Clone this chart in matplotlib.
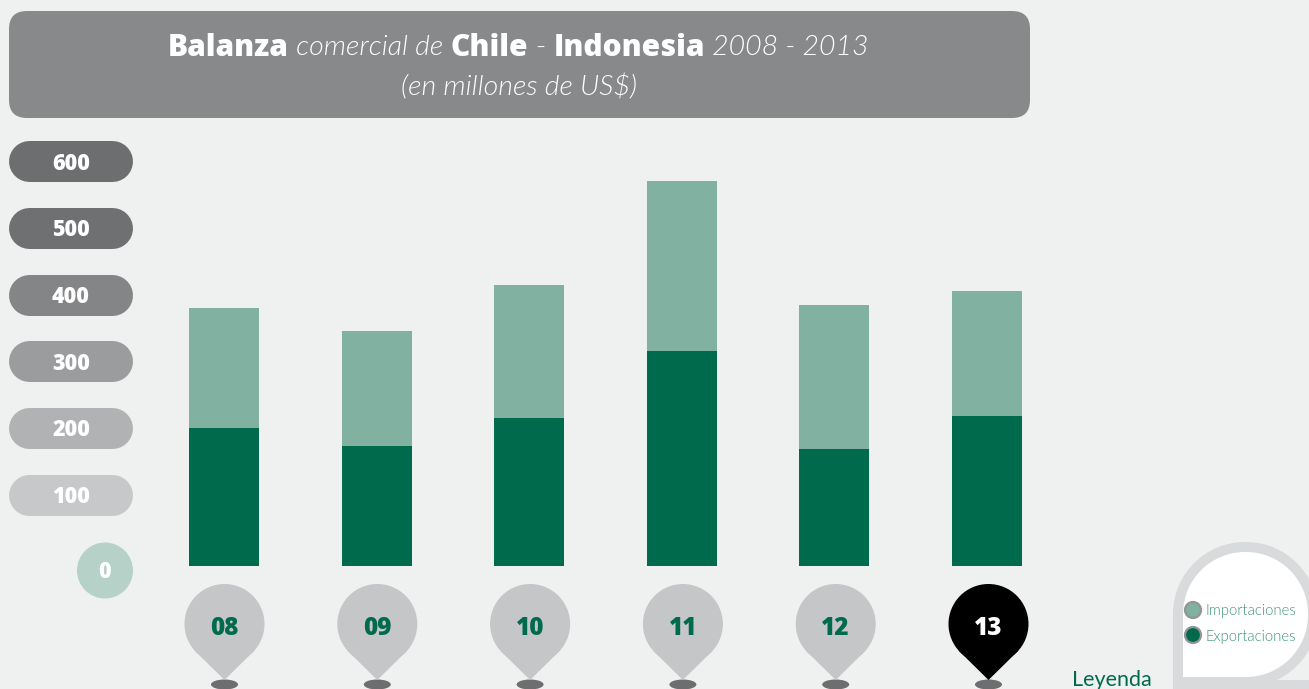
import matplotlib
matplotlib.use("Agg")
import matplotlib.pyplot as plt
from matplotlib.patches import Circle, Ellipse, FancyBboxPatch, PathPatch, Polygon, Rectangle
from matplotlib.path import Path

years = ["08", "09", "10", "11", "12", "13"]
exportaciones = [207, 180, 222, 322, 175, 225]
importaciones = [180, 172, 199, 255, 216, 187]
ticks = ["600", "500", "400", "300", "200", "100"]
tick_colors = ["#6d6e70", "#6f7072", "#848587", "#9b9c9e", "#b1b2b4", "#c7c8ca"]

W, H = 1309, 689
BG = "#eff1f1"
DARK = "#006a4d"
LIGHT = "#80b1a1"
HEAVY = "Open Sans"
plt.rcParams["font.family"] = ["Lato", "DejaVu Sans"]

fig = plt.figure(figsize=(W / 100, H / 100), dpi=100, facecolor=BG)

# overlay in pixel coordinates for the decoration
deco = fig.add_axes([0, 0, 1, 1])
deco.set_xlim(0, W)
deco.set_ylim(H, 0)
deco.axis("off")

# title box
deco.add_patch(FancyBboxPatch((27, 29), 985, 71, boxstyle="round,pad=18,rounding_size=18",
                              fc="#88898b", ec="none"))

title_parts = [("Balanza", HEAVY, 800, "normal"), (" comercial de ", "Lato", 300, "italic"),
               ("Chile", HEAVY, 800, "normal"), (" - ", "Lato", 300, "normal"),
               ("Indonesia", HEAVY, 800, "normal"), (" 2008 - 2013", "Lato", 300, "italic")]
renderer = fig.canvas.get_renderer()
x = 168
for s, fam, w, st in title_parts:
    size = 21.5 if fam == HEAVY else 20.5
    deco.text(x, 47.5, s.replace(" ", "\u00a0"), color="white", family=fam, fontsize=size,
              fontweight=w, fontstyle=st, ha="left", va="center")
    probe = deco.text(0, 0, s.replace(" ", "\u00a0"), family=fam, fontsize=size, fontweight=w, fontstyle=st)
    x += probe.get_window_extent(renderer).width
    probe.remove()
deco.text(519, 87, "(en millones de US$)", color="white", fontsize=20.5, fontweight=300,
          fontstyle="italic", ha="center", va="center")

# y axis pills
pill_y = [161, 228, 294.5, 361, 428, 494.5]
for lab, c, py in zip(ticks, tick_colors, pill_y):
    deco.plot([28.5, 112], [py, py], color=c, lw=41 * 0.72, solid_capstyle="round")
    deco.text(71, py + 2.5, lab, color="white", family=HEAVY, fontsize=15.5, fontweight=800,
              ha="center", va="center")
deco.add_patch(Circle((105, 570.5), 28, fc="#b5d1c8", ec="none"))
deco.text(105, 572, "0", color="white", family=HEAVY, fontsize=15.5, fontweight=800, ha="center", va="center")

# bars
ax = fig.add_axes([148 / W, 1 - 566 / H, 915 / W, 400 / H])
ax.patch.set_alpha(0)
pos = range(len(years))
ax.bar(pos, exportaciones, width=70 / 152.6, color=DARK)
ax.bar(pos, importaciones, width=70 / 152.6, bottom=exportaciones, color=LIGHT)
ax.set_xlim((148 - 224) / 152.6, (1063 - 224) / 152.6)
ax.set_ylim(0, 600)
ax.axis("off")

# year markers
for i, y in enumerate(years):
    cx = 224.5 + 152.8 * i
    c = "black" if y == "13" else "#c5c6c8"
    deco.add_patch(Ellipse((cx, 684.5), 27, 10, fc="#6d6e70", ec="none"))
    deco.add_patch(Circle((cx, 624), 40, fc=c, ec="none"))
    deco.add_patch(Polygon([(cx - 30, 650.5), (cx, 680), (cx + 30, 650.5)], fc=c, ec="none"))
    deco.text(cx, 628.5, y, color="white" if y == "13" else DARK, family=HEAVY, fontsize=17.5,
              fontweight=800, ha="center", va="center")

# legend drop
r = 67
k = 0.5523 * r
L, T, R, B = 1178, 547, 1313, 682
verts = [(L, B), (L, T + r), (L, T + r - k), (L + r - k, T), (L + r, T),
         (R - r, T), (R - r + k, T), (R, T + r - k), (R, T + r),
         (R, B - r), (R, B - r + k), (R - r + k, B), (R - r, B), (L, B)]
codes = [Path.MOVETO, Path.LINETO, Path.CURVE4, Path.CURVE4, Path.CURVE4,
         Path.LINETO, Path.CURVE4, Path.CURVE4, Path.CURVE4,
         Path.LINETO, Path.CURVE4, Path.CURVE4, Path.CURVE4, Path.CLOSEPOLY]
deco.add_patch(PathPatch(Path(verts, codes), fc="white", ec="#d9dadb", lw=7.2, joinstyle="miter"))
deco.add_patch(Rectangle((1173, 680), 136, 9, fc="#d9dadb", ec="none"))
for py, c, lab in [(610, LIGHT, "Importaciones"), (635, DARK, "Exportaciones")]:
    deco.add_patch(Circle((1193, py), 8, fc=c, ec="#939598", lw=1.6))
    deco.text(1205.5, py + 1.5, lab, color="#3f9479", fontsize=10.7, fontweight=300,
              ha="left", va="center")
deco.text(1072, 680, "Leyenda", color=DARK, fontsize=15.5, ha="left", va="center")

fig.savefig("out.png", dpi=100, facecolor=BG)
